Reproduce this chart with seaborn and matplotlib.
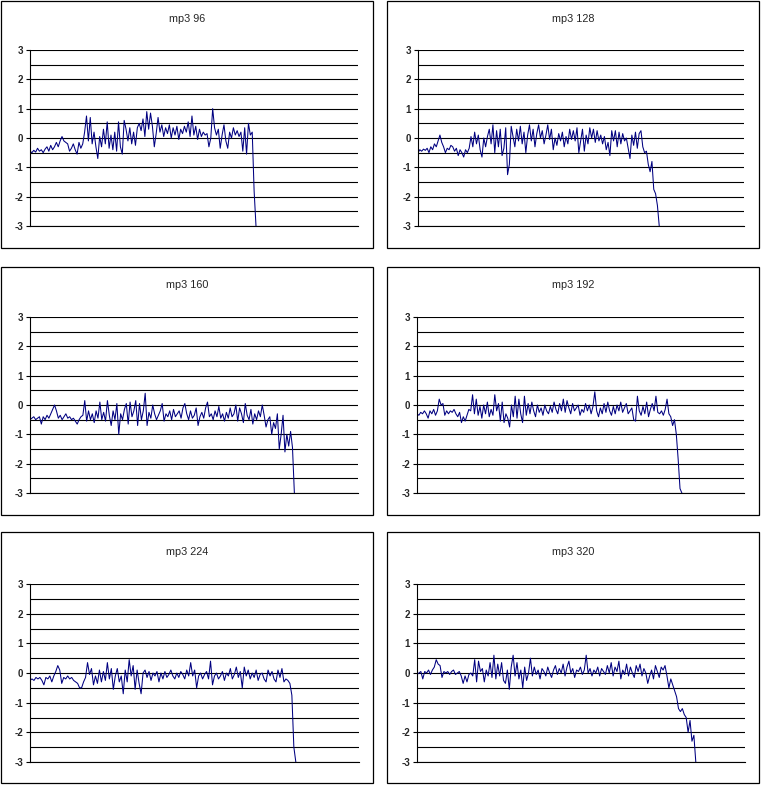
import numpy as np
import pandas as pd
import matplotlib
matplotlib.use('Agg')
import matplotlib.pyplot as plt
from matplotlib.patches import Rectangle
import seaborn as sns

# --- data (one series per bitrate) ---
titles = ['mp3 96', 'mp3 128', 'mp3 160', 'mp3 192', 'mp3 224', 'mp3 320']

mp3_96 = [
    -0.45, -0.5, -0.42, -0.48, -0.35, -0.45, -0.4, -0.5, -0.38, -0.3, -0.45, -0.25, -0.4,
    -0.3, -0.15, -0.3, -0.1, 0.05, -0.1, -0.15, -0.2, -0.45, -0.35, -0.2, -0.4,
    -0.55, -0.15, -0.35, -0.2, 0.2, 0.75, -0.1, 0.7, -0.2, 0.2, -0.3, -0.7, 0.05, -0.3,
    0.3, -0.2, 0.55, -0.35, 0.1, -0.4, 0.2, -0.45, 0.55, -0.3, -0.55, 0.6, 0.3, -0.1,
    0.35, -0.2, 0.2, -0.25, 0.35, 0.5, 0.25, 0.65, 0.05, 0.9, 0.3, 0.85, 0.4, -0.3,
    0.15, 0.7, 0.2, 0.45, 0.05, 0.35, 0.15, 0.45, 0.0, 0.35, 0.1, 0.4, -0.05, 0.3,
    0.15, 0.4, 0.2, 0.55, 0.05, 0.75, 0.1, 0.4, -0.05, 0.3, 0.05, 0.2, 0.1, 0.15,
    -0.3, 0.0, 1.0, 0.35, 0.1, 0.3, -0.35, 0.1, 0.45, -0.1, -0.35, 0.2, 0.0, 0.35,
    0.1, 0.25, 0.05, 0.2, -0.45, 0.35, -0.55, 0.5, 0.1, 0.2, -1.8, -3.0,
]

mp3_128 = [
    -0.5, -0.4, -0.45, -0.38, -0.42, -0.35, -0.5, -0.3, -0.4, -0.2, -0.3, -0.1, 0.1,
    -0.15, -0.3, -0.5, -0.35, -0.4, -0.25, -0.3, -0.45, -0.35, -0.6, -0.4, -0.5, -0.65,
    -0.4, -0.5, -0.35,
    0.05, -0.3, 0.2, -0.2, 0.1, -0.4, -0.65, 0.0, -0.3, 0.05,
    0.3, -0.2, 0.45, -0.5, 0.25, -0.3, 0.3, -0.6, -0.35, 0.35, -1.25, -0.9, 0.4,
    0.05, -0.3, 0.3, -0.1, 0.4, -0.2, 0.2, -0.5, 0.1, 0.45, -0.1, 0.3, -0.3, 0.15,
    0.45, 0.0, 0.25, -0.2, 0.1, 0.45, -0.05, 0.3, -0.4, 0.0, -0.25, 0.15, -0.1, 0.2,
    -0.3, 0.05, -0.2, 0.3, -0.05, 0.25, -0.1, 0.35, -0.5,
    -0.1, 0.3, -0.45, 0.1, -0.2, 0.35, 0.0, 0.3, -0.15, 0.25, -0.1, 0.1, -0.2, 0.05,
    -0.4, -0.15, -0.6, 0.25, -0.1,
    0.25, -0.3, 0.2, -0.2, 0.15, -0.1, 0.0, -0.35, -0.7, 0.1, -0.25, 0.2, -0.35, 0.15,
    0.25,
    -0.3, -0.5, -0.45, -0.9, -1.15, -0.8, -1.75, -1.9, -2.3, -3.0,
]

mp3_160 = [
    -0.5, -0.45, -0.4, -0.5, -0.45, -0.4, -0.65, -0.4, -0.5, -0.35, -0.45, -0.3, -0.15,
    0.0,
    -0.2, -0.45, -0.35, -0.5, -0.4, -0.3, -0.45, -0.4, -0.5, -0.45, -0.55, -0.65, -0.5,
    -0.4, -0.35,
    0.15, -0.55, -0.2, -0.5, -0.3, -0.6, -0.2, -0.45, 0.1, -0.5, -0.25, -0.55, 0.15,
    -0.35,
    -0.7, -0.2, -0.5, 0.05, -1.0, -0.3, -0.5, -0.15, 0.05, -0.65, 0.1, -0.4, -0.2, 0.15,
    -0.7,
    0.05, -0.5, -0.2, 0.4, -0.7, -0.25, -0.45, 0.0, -0.3, -0.5, -0.35, -0.2, 0.05,
    -0.55, -0.3, -0.4, -0.2, -0.5,
    -0.15, -0.4, -0.3, -0.2, -0.45, -0.1, 0.05, -0.3, -0.5, -0.2, -0.45, -0.35, -0.1,
    -0.7, -0.4, -0.25, -0.45, -0.1, 0.1, -0.4, -0.3, -0.5, -0.2, -0.4, -0.05, -0.45,
    -0.3, -0.55, -0.25, -0.45, -0.1, -0.4, -0.3, 0.0, -0.55, -0.1,
    -0.3, -0.6, 0.05, -0.35, -0.5, -0.15, -0.65, -0.3, -0.5, -0.2, -0.4, 0.0, -0.35,
    -0.75, -0.5, -0.4, -1.0, -0.6, -0.8, -0.3, -1.5, -1.0, -0.35, -1.6, -1.0, -1.4,
    -0.9, -1.45, -3.0,
]

mp3_192 = [
    -0.3, -0.35, -0.25, -0.3, -0.2, -0.3, -0.45, -0.2, -0.3, -0.15, -0.35, -0.2, 0.2,
    0.0, 0.05, -0.35, -0.2, -0.3, -0.2, -0.25, -0.15, -0.3, -0.4, -0.25, -0.6,
    -0.4, -0.55, -0.35, -0.15, -0.2, 0.35,
    -0.3, 0.2, -0.35, -0.05, -0.45, 0.0, -0.3, 0.1, -0.4, -0.15, -0.35, 0.35, -0.2,
    0.05, -0.55, 0.1, -0.6, -0.3, -0.45, -0.75, 0.0, -0.4, 0.3, -0.45, 0.2, -0.3, -0.6,
    0.3,
    -0.35, 0.05, -0.3, 0.1, -0.2, -0.4, 0.0, -0.25, -0.1, -0.35, 0.0, -0.2, -0.3, -0.05,
    -0.25, 0.1, -0.15, -0.3, 0.05, -0.2, 0.2, -0.25, 0.15, -0.1, -0.3, 0.05, -0.2, -0.1,
    0.0, -0.35, -0.15, -0.25, 0.05, -0.2, 0.0, -0.3, -0.05,
    0.45,
    -0.2, -0.4, -0.1, -0.3, 0.05, -0.25, 0.1, -0.2, -0.35, -0.05, -0.3, 0.0, -0.2, 0.1,
    -0.25, -0.1, 0.05, -0.3, -0.2, -0.1, -0.5, -0.55, 0.3, -0.2, -0.35, -0.05, -0.3,
    0.1, -0.4, -0.15, 0.05, -0.2, 0.3, -0.25, -0.3, -0.2, -0.35, -0.15, 0.2,
    -0.3, -0.4, -0.7, -0.5, -1.0, -1.85, -2.85, -3.0,
]

mp3_224 = [
    -0.25, -0.2, -0.25, -0.15, -0.2, -0.15, -0.25, -0.4, -0.15, -0.2, -0.1, -0.3, -0.1,
    0.05, 0.25, 0.1, -0.35, -0.15, -0.2, -0.1, -0.2, -0.15, -0.25, -0.3, -0.35, -0.5,
    -0.5,
    -0.3, -0.15, 0.35, -0.05, 0.15, -0.4, -0.1, -0.35, 0.1, -0.3, 0.05, -0.25, 0.35,
    -0.2, 0.15, -0.55, -0.1,
    0.15, -0.3, -0.1, -0.7, 0.1, -0.3, 0.45, -0.1, 0.25, -0.55, 0.1, -0.35, -0.7, 0.0,
    0.1,
    -0.15, 0.05, -0.25, 0.0, -0.1, 0.05, -0.3, 0.0, -0.2, 0.05, -0.15, -0.05, 0.1, -0.1,
    -0.2, 0.0, -0.15, 0.05, -0.05, -0.2, 0.1, -0.1, 0.35, -0.1, 0.1, -0.5, -0.1, 0.0,
    -0.2, -0.05, 0.05, -0.2, 0.4, -0.4, -0.1, 0.0, -0.2, -0.1, 0.05, -0.25, 0.0, -0.1,
    0.15, -0.2, -0.05, 0.2, -0.15, 0.05, -0.5, 0.2, -0.1, 0.1, -0.2, 0.0, -0.15, 0.1,
    -0.25, -0.05, 0.0, -0.2, -0.3, 0.1, -0.1, 0.05, -0.2, -0.3, 0.1, -0.15, 0.15, -0.3,
    -0.2,
    -0.25, -0.35, -0.75, -2.5, -3.0,
]

mp3_320 = [
    -0.05, 0.0, 0.05, -0.2, 0.05, 0.0, 0.1, -0.05, 0.1, 0.2, 0.45, 0.3, 0.25, -0.15,
    0.05, 0.0, 0.05, -0.05, 0.05, 0.1, -0.05, 0.0, 0.05, -0.1, -0.35,
    -0.1, -0.3, -0.05, 0.0, -0.1, 0.45,
    -0.3, 0.4, 0.05, 0.15, -0.3, 0.1, -0.1, 0.35, -0.15, 0.6, -0.2, 0.3, -0.1, 0.35,
    -0.25, -0.35, 0.1, -0.55, 0.2, 0.6, -0.1, 0.35, -0.2, 0.1, -0.5, 0.2, -0.25, 0.0,
    0.5,
    -0.1, 0.2, -0.05, 0.1, -0.2, 0.15, 0.05, -0.1, 0.2, 0.0, -0.15, 0.1, 0.25, -0.05,
    0.15, 0.0, 0.3, -0.1, 0.2, 0.4, 0.0, 0.15, -0.15, 0.1, 0.05, 0.2, -0.05, 0.1, 0.6,
    0.0, 0.15, -0.1, 0.1, 0.0, 0.2, -0.1, 0.15, 0.05, -0.05, 0.25, 0.0, 0.35, -0.1, 0.2,
    0.05, 0.4, -0.2, 0.1, -0.05, 0.3, -0.1, 0.2, 0.0, -0.15, 0.25, 0.05, 0.3, -0.1,
    0.15, 0.0, -0.35, -0.1, 0.1, -0.2, 0.25, 0.05, -0.15, 0.2, 0.1, 0.25,
    -0.1, -0.5, -0.2, -0.4, -0.6, -0.8, -1.2, -1.3, -1.2, -1.4, -1.5, -2.0, -1.6, -2.3,
    -2.1, -3.0,
]

series = [mp3_96, mp3_128, mp3_160, mp3_192, mp3_224, mp3_320]

# --- layout (pixels, top-left origin) ---
W, H = 761, 785
boxes = [(1, 1, 373, 248), (387, 1, 759, 248),
         (1, 267, 373, 515), (387, 267, 759, 515),
         (1, 532, 373, 783), (387, 532, 759, 783)]
plot_areas = [(30, 50, 358, 226), (418, 50, 744, 226),
              (30, 317, 358, 493), (417, 317, 744, 493),
              (30, 584, 359, 762), (417, 584, 745, 762)]
title_y = [19, 19, 285, 285, 552, 552]
data_span = [0.689, 0.74, 0.806, 0.81, 0.808, 0.85]  # share of x axis holding data

sns.set_style('white')
plt.rcParams['font.family'] = ['Liberation Sans', 'DejaVu Sans']

fig = plt.figure(figsize=(W / 100, H / 100), dpi=100)
fig.patch.set_facecolor('white')

for k in range(6):
    x0, y0, x1, y1 = boxes[k]
    fig.patches.append(Rectangle((x0 / W, 1 - y1 / H), (x1 - x0) / W, (y1 - y0) / H,
                                 transform=fig.transFigure, fill=False,
                                 edgecolor='black', linewidth=0.9))
    fig.text((x0 + x1) / 2 / W, 1 - title_y[k] / H, titles[k],
             ha='center', va='center', fontsize=7.8)

    px0, py0, px1, py1 = plot_areas[k]
    ax = fig.add_axes([px0 / W, 1 - py1 / H, (px1 - px0) / W, (py1 - py0) / H])
    df = pd.DataFrame({'idx': np.arange(len(series[k])), 'val': series[k]})
    sns.lineplot(data=df, x='idx', y='val', ax=ax, color='#000080', linewidth=0.75)

    n = len(series[k])
    ax.set_xlim(0, (n - 1) / data_span[k])
    ax.set_ylim(-3, 3)
    ax.set_yticks(np.arange(-3, 4, 1))
    ax.set_yticklabels([str(v) for v in range(-3, 4)], fontsize=7, fontweight='bold')
    ax.set_yticks(np.arange(-3, 3.01, 0.5), minor=True)
    ax.set_xticks([])
    ax.set_xlabel('')
    ax.set_ylabel('')
    ax.grid(True, which='both', axis='y', color='black', linewidth=0.8)
    ax.set_axisbelow(True)
    ax.tick_params(axis='y', which='major', direction='out', length=3, width=0.8,
                   color='black', pad=2, left=True)
    ax.tick_params(axis='y', which='minor', length=0)
    for side in ['top', 'right']:
        ax.spines[side].set_visible(False)
    for side in ['left', 'bottom']:
        ax.spines[side].set_color('black')
        ax.spines[side].set_linewidth(0.8)

fig.savefig('out.png', dpi=100, facecolor='white')
